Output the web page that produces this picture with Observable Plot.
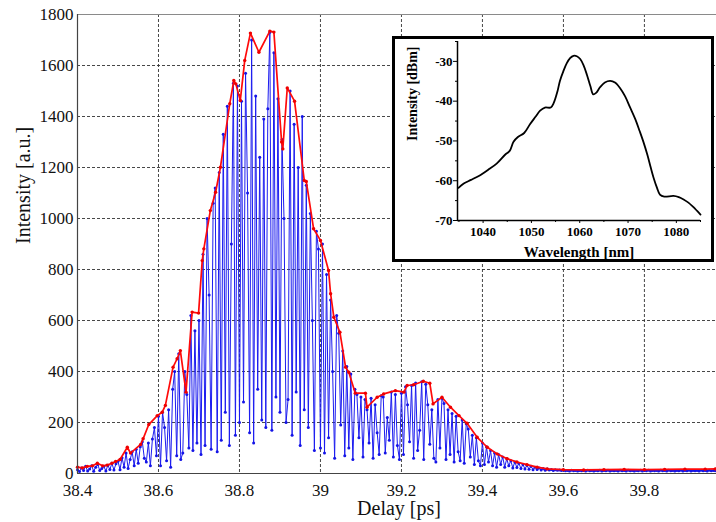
<!DOCTYPE html>
<html>
<head>
<meta charset="utf-8">
<script src="https://cdn.jsdelivr.net/npm/d3@7"></script>
<script src="https://cdn.jsdelivr.net/npm/@observablehq/plot@0.6"></script>
<style>
  html, body { margin: 0; padding: 0; background: #fff; }
  #wrap { position: relative; width: 716px; height: 522px; overflow: hidden; }
  #inset { position: absolute; left: 392px; top: 36px; width: 322px; height: 226px;
           border: 3px solid #000; box-sizing: border-box; background: #fff; }
  svg { display: block; }
  #wrap svg, #wrap svg text, #wrap svg g { font-family: "Liberation Serif", "Times New Roman", serif !important; }
  #inset svg text { font-weight: bold !important; }
</style>
</head>
<body>
<div id="wrap"><div id="main"></div><div id="inset"></div></div>
<script>
// ---------- Main chart data ----------
const xTicks = [38.4, 38.6, 38.8, 39.0, 39.2, 39.4, 39.6, 39.8];
const xGrid = [38.6, 38.8, 39.0, 39.2, 39.4, 39.6, 39.8];
const yTicks = [0, 200, 400, 600, 800, 1000, 1200, 1400, 1600, 1800];
const yGrid = [200, 400, 600, 800, 1000, 1200, 1400, 1600];

// Blue interferogram: sampled every 0.005 ps starting at 38.4 ps
const blueStart = 38.4;
const blueStep = 0.005;
const blueIntensity = [
  15, 8, 22, 12, 28, 10, 18, 30, 9, 25,
  35, 12, 20, 28, 10, 32, 16, 40, 14, 38,
  48, 15, 62, 25, 80, 20, 55, 85, 30, 95,
  40, 105, 125, 60, 45, 120, 30, 135, 180, 70,
  225, 30, 240, 180, 50, 250, 25, 330, 400, 70,
  470, 55, 80, 400, 310, 100, 620, 90, 560, 120,
  600, 75, 860, 110, 1000, 700, 95, 1060, 1120, 85,
  1180, 130, 1330, 240, 1440, 110, 900, 1530, 150, 1520,
  200, 1460, 280, 1570, 1100, 160, 1700, 120, 1480, 330,
  1240, 210, 1390, 180, 1430, 1730, 170, 1650, 300, 1470,
  240, 1310, 1000, 200, 290, 1500, 150, 1370, 320, 1200,
  110, 1400, 250, 1130, 180, 1020, 600, 90, 950, 880,
  100, 900, 80, 780, 140, 680, 400, 60, 620, 550,
  190, 480, 70, 420, 100, 390, 55, 330, 310, 140,
  300, 65, 290, 250, 120, 295, 60, 270, 160, 75,
  305, 300, 80, 220, 130, 320, 65, 310, 110, 55,
  315, 75, 340, 270, 125, 345, 60, 355, 90, 170,
  360, 55, 350, 270, 115, 250, 60, 45, 290, 100,
  295, 275, 55, 250, 75, 235, 45, 225, 85, 50,
  210, 40, 195, 175, 65, 150, 35, 140, 50, 30,
  120, 35, 105, 45, 90, 30, 80, 25, 75, 35,
  65, 25, 58, 30, 50, 22, 45, 24, 40, 20,
  35, 18, 32, 17, 28, 15, 25, 16, 22, 14,
  20, 13, 18, 14, 16, 12, 15, 13, 14, 12,
  13, 11, 12, 10, 13, 11, 12, 10, 12, 11,
  12, 10, 13, 11, 12, 10, 12, 11, 13, 10,
  12, 11, 13, 10, 12, 11, 12, 10, 13, 11,
  12, 10, 13, 11, 12, 10, 12, 11, 13, 10,
  12, 11, 13, 10, 12, 11, 12, 10, 13, 11,
  12, 10, 13, 11, 12, 10, 12, 11, 13, 10,
  12, 11, 13, 10, 12, 11, 12, 10, 13, 11,
  12, 10, 13, 11, 12, 11
];

// Red upper envelope
const redDelay = [
  38.400, 38.412, 38.424, 38.437, 38.449, 38.462, 38.473, 38.485, 38.494, 38.505,
  38.523, 38.531, 38.556, 38.562, 38.576, 38.597, 38.609, 38.617, 38.636, 38.646,
  38.654, 38.668, 38.683, 38.699, 38.708, 38.712, 38.728, 38.741, 38.753, 38.776,
  38.786, 38.791, 38.802, 38.813, 38.827, 38.848, 38.875, 38.885, 38.904, 38.907,
  38.918, 38.936, 38.960, 38.965, 38.983, 39.000, 39.020, 39.025, 39.033, 39.048,
  39.062, 39.070, 39.086, 39.111, 39.115, 39.140, 39.156, 39.185, 39.206, 39.214,
  39.230, 39.254, 39.270, 39.278, 39.300, 39.321, 39.342, 39.362, 39.387, 39.412,
  39.436, 39.461, 39.485, 39.510, 39.535, 39.560, 39.600, 39.650, 39.700, 39.750,
  39.800, 39.850, 39.900, 39.950, 39.975
];
const redIntensity = [
  25, 22, 28, 30, 40, 30, 33, 40, 47, 55,
  103, 80, 114, 136, 192, 227, 240, 267, 417, 450,
  482, 319, 633, 629, 835, 881, 1031, 1103, 1201, 1450,
  1541, 1528, 1463, 1620, 1727, 1652, 1735, 1731, 1300, 1273,
  1512, 1460, 1149, 1145, 960, 914, 796, 705, 613, 554,
  417, 397, 315, 315, 260, 299, 312, 325, 319, 345,
  348, 362, 354, 273, 299, 260, 227, 197, 142, 103,
  77, 58, 45, 35, 25, 18, 15, 14, 15, 16,
  15, 16, 17, 17, 18
];

// ---------- Inset data ----------
const insetXTicks = [1040, 1050, 1060, 1070, 1080];
const insetXMinor = [1035, 1045, 1055, 1065, 1075, 1085];
const insetYTicks = [-70, -60, -50, -40, -30];
const insetYMinor = [-65, -55, -45, -35, -25];
const wavelength = [
  1034.9, 1036.0, 1037.5, 1039.4, 1041.0, 1042.8, 1044.6, 1045.5, 1046.3, 1047.2,
  1048.5, 1049.7, 1050.8, 1051.8, 1052.8, 1054.0, 1054.6, 1055.4, 1055.9, 1056.6,
  1057.3, 1058.0, 1058.7, 1059.4, 1060.1, 1060.8, 1061.5, 1062.2, 1062.8, 1063.4,
  1064.2, 1065.2, 1066.3, 1067.3, 1068.4, 1069.4, 1070.4, 1071.5, 1072.4, 1073.2,
  1074.0, 1074.7, 1075.3, 1076.0, 1076.6, 1077.5, 1079.4, 1080.5, 1081.5, 1082.5,
  1083.5, 1084.3, 1085.0
];
const spectrumDbm = [
  -61.8, -60.7, -59.8, -58.6, -57.3, -55.7, -53.4, -52.5, -50.2, -49.0,
  -48.0, -45.8, -44.0, -42.4, -41.6, -41.6, -40.5, -37.5, -34.9, -32.5,
  -30.5, -29.2, -28.6, -28.7, -29.4, -31.0, -33.4, -36.2, -38.3, -37.9,
  -36.5, -35.3, -34.9, -35.3, -36.8, -38.8, -41.5, -44.5, -47.5, -50.3,
  -53.5, -56.7, -59.3, -61.8, -63.5, -64.0, -63.8, -64.1, -64.7, -65.5,
  -66.6, -67.6, -68.5
];

// ---------- Build tables ----------
const blue = blueIntensity.map((v, i) => ({t: blueStart + i * blueStep, v}));
const red = redDelay.map((t, i) => ({t, v: redIntensity[i]}));
const spectrum = wavelength.map((w, i) => ({w, d: spectrumDbm[i]}));

const serif = "Liberation Serif, Times New Roman, serif";
const fmt = d => String(+(+d).toFixed(1));

const main = Plot.plot({
  width: 716,
  height: 522,
  marginLeft: 77,
  marginRight: 0,
  marginTop: 14,
  marginBottom: 49,
  style: {fontFamily: serif, fontSize: "17px", background: "#fff", color: "#222", overflow: "visible"},
  x: {domain: [38.4, 39.978]},
  y: {domain: [0, 1800]},
  marks: [
    Plot.gridX(xGrid, {stroke: "#333", strokeOpacity: 0.9, strokeDasharray: "3,2"}),
    Plot.gridY(yGrid, {stroke: "#333", strokeOpacity: 0.9, strokeDasharray: "3,2"}),
    Plot.ruleY([1800], {stroke: "#8a8a8a", strokeWidth: 1}),
    Plot.line(blue, {x: "t", y: "v", stroke: "#1c1cf0", strokeWidth: 1}),
    Plot.dot(blue, {x: "t", y: "v", r: 1.5, fill: "#1414e6", stroke: "none"}),
    Plot.line(red, {x: "t", y: "v", stroke: "#ff0a0a", strokeWidth: 1.7}),
    Plot.dot(red, {x: "t", y: "v", r: 1.7, fill: "#ee0000", stroke: "none"}),
    Plot.ruleX([38.4], {stroke: "#444", strokeWidth: 1.2}),
    Plot.ruleY([0], {stroke: "#444", strokeWidth: 1.2}),
    Plot.axisX(xTicks, {tickSize: 0, tickPadding: 10, label: null, tickFormat: fmt, fontSize: 17, fontFamily: serif, fill: "#111"}),
    Plot.axisY(yTicks, {tickSize: 0, tickPadding: 4, label: null, tickFormat: d => String(d), fontSize: 17, fontFamily: serif, fill: "#111"}),
    Plot.text(["Delay [ps]"], {frameAnchor: "bottom", lineAnchor: "bottom", dy: 41, dx: 2, fontSize: 20, fill: "#111", fontFamily: serif}),
    Plot.text(["Intensity [a.u.]"], {frameAnchor: "left", rotate: -90, dx: -54, fontSize: 20, fill: "#111", fontFamily: serif})
  ]
});
document.getElementById("main").appendChild(main);

const inset = Plot.plot({
  width: 316,
  height: 220,
  marginLeft: 62,
  marginRight: 11,
  marginTop: 2,
  marginBottom: 39,
  style: {fontFamily: serif, fontSize: "13px", fontWeight: "bold", background: "#fff", color: "#000", overflow: "visible"},
  x: {domain: [1034.7, 1085]},
  y: {domain: [-70, -25]},
  marks: [
    Plot.line(spectrum, {x: "w", y: "d", stroke: "#000", strokeWidth: 1.8, curve: "catmull-rom"}),
    Plot.ruleX([1034.7], {stroke: "#000", strokeWidth: 1.5}),
    Plot.ruleY([-70], {stroke: "#000", strokeWidth: 1.5}),
    Plot.axisX(insetXTicks, {tickSize: 3, tickPadding: 3, label: null, tickFormat: d => String(d), fontWeight: "bold", fontSize: 13, fontFamily: serif, fill: "#000"}),
    Plot.axisX(insetXMinor, {tickSize: 2, label: null, tickFormat: () => ""}),
    Plot.axisY(insetYTicks, {tickSize: 4, tickPadding: 1, label: null, tickFormat: d => String(d), fontWeight: "bold", fontSize: 13, fontFamily: serif, fill: "#000"}),
    Plot.axisY(insetYMinor, {tickSize: 2, label: null, tickFormat: () => ""}),
    Plot.text(["Wavelength [nm]"], {frameAnchor: "bottom", lineAnchor: "bottom", dy: 36, fontSize: 15, fontWeight: "bold", fill: "#000", fontFamily: serif}),
    Plot.text(["Intensity [dBm]"], {frameAnchor: "left", rotate: -90, dx: -45, dy: 10, fontSize: 14, fontWeight: "bold", fill: "#000", fontFamily: serif})
  ]
});
document.getElementById("inset").appendChild(inset);
</script>
</body>
</html>
